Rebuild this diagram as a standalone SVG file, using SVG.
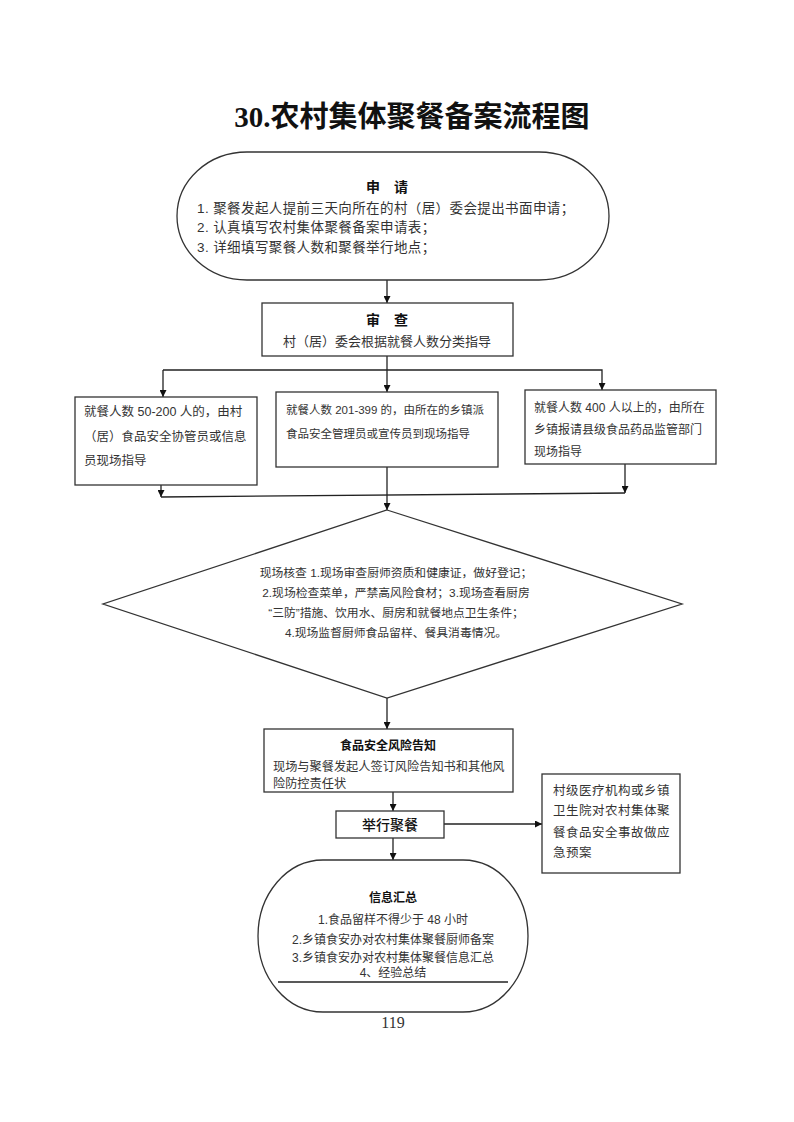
<svg xmlns="http://www.w3.org/2000/svg" width="794" height="1122" viewBox="0 0 794 1122">
<style>
text{font-family:"Liberation Sans","Noto Sans CJK SC",sans-serif;fill:#333}
.t{font-size:13.5px;letter-spacing:0.4px}
.s{font-size:11.5px}
.b{font-weight:bold;fill:#111}
.c{text-anchor:middle}
.d{font-size:11.8px}
.e{font-size:12.5px;letter-spacing:0.5px}
.shape{fill:#fff;stroke:#333;stroke-width:1.3}
.ln{fill:none;stroke:#222;stroke-width:1.3}
</style>
<defs>
<marker id="ah" viewBox="0 0 10 10" refX="10" refY="5" markerWidth="7" markerHeight="7" orient="auto" markerUnits="userSpaceOnUse"><path d="M0,0 L10,5 L0,10 z" fill="#111"/></marker>
</defs>
<rect width="794" height="1122" fill="#fff"/>
<text x="412" y="127" class="c b" style="font-family:'Liberation Serif','Noto Sans CJK SC',serif;font-size:29px">30.农村集体聚餐备案流程图</text>

<g id="connectors">
<line class="ln" x1="387" y1="280" x2="387" y2="303" marker-end="url(#ah)"/>
<line class="ln" x1="387" y1="356" x2="387" y2="392" marker-end="url(#ah)"/>
<polyline class="ln" points="163,370 602,370 602,390" marker-end="url(#ah)"/>
<line class="ln" x1="163" y1="370" x2="163" y2="397" marker-end="url(#ah)"/>
<line class="ln" x1="161" y1="485" x2="161" y2="497" marker-end="url(#ah)"/>
<line class="ln" x1="625" y1="464" x2="625" y2="493" marker-end="url(#ah)"/>
<line class="ln" x1="161" y1="497" x2="625" y2="493"/>
<line class="ln" x1="387" y1="467" x2="387" y2="510" marker-end="url(#ah)"/>
<line class="ln" x1="387" y1="698" x2="387" y2="729" marker-end="url(#ah)"/>
<line class="ln" x1="393" y1="792" x2="393" y2="811" marker-end="url(#ah)"/>
<line class="ln" x1="444" y1="824" x2="542" y2="824" marker-end="url(#ah)"/>
<line class="ln" x1="393" y1="838" x2="393" y2="860" marker-end="url(#ah)"/>
</g>

<g id="apply">
<rect class="shape" x="177" y="152" width="432" height="128" rx="70" ry="64"/>
<text x="387" y="192" class="c b" style="font-size:14px">申　请</text>
<text x="197" y="213" class="t">1. 聚餐发起人提前三天向所在的村（居）委会提出书面申请；</text>
<text x="197" y="232" class="t">2. 认真填写农村集体聚餐备案申请表；</text>
<text x="197" y="252" class="t">3. 详细填写聚餐人数和聚餐举行地点；</text>
</g>

<g id="review">
<rect class="shape" x="262" y="303" width="251" height="53"/>
<text x="387" y="325" class="c b" style="font-size:14px">审　查</text>
<text x="387" y="346" class="c" style="font-size:13px">村（居）委会根据就餐人数分类指导</text>
</g>

<g id="small">
<rect class="shape" x="75" y="397" width="182" height="88"/>
<text x="84" y="416" style="font-size:12.5px">就餐人数 50-200 人的，由村</text>
<text x="84" y="441" style="font-size:12.5px">（居）食品安全协管员或信息</text>
<text x="84" y="465" style="font-size:12.5px">员现场指导</text>
</g>

<g id="medium">
<rect class="shape" x="276" y="392" width="222" height="75"/>
<text x="286" y="414" class="s">就餐人数 201-399 的，由所在的乡镇派</text>
<text x="286" y="438" class="s">食品安全管理员或宣传员到现场指导</text>
</g>

<g id="large">
<rect class="shape" x="525" y="390" width="191" height="74"/>
<text x="534" y="412" style="font-size:12px">就餐人数 400 人以上的，由所在</text>
<text x="534" y="434" style="font-size:12px">乡镇报请县级食品药品监管部门</text>
<text x="534" y="456" style="font-size:12px">现场指导</text>
</g>

<g id="inspect">
<polygon class="shape" points="387,510 682,604 387,698 103,604"/>
<text x="396" y="577" class="c d">现场核查 1.现场审查厨师资质和健康证，做好登记；</text>
<text x="396" y="597" class="c d">2.现场检查菜单，严禁高风险食材；3.现场查看厨房</text>
<text x="396" y="617" class="c d">“三防”措施、饮用水、厨房和就餐地点卫生条件；</text>
<text x="396" y="637" class="c d">4.现场监督厨师食品留样、餐具消毒情况。</text>
</g>

<g id="risk">
<rect class="shape" x="264" y="729" width="249" height="63"/>
<text x="388" y="750" class="c b" style="font-size:12px">食品安全风险告知</text>
<text x="273" y="771" style="font-size:12.2px">现场与聚餐发起人签订风险告知书和其他风</text>
<text x="273" y="788" style="font-size:12.2px">险防控责任状</text>
</g>

<g id="hold">
<rect class="shape" x="336" y="811" width="108" height="27"/>
<text x="390" y="830" class="c b" style="font-size:14px;font-weight:500">举行聚餐</text>
</g>

<g id="emergency">
<rect class="shape" x="542" y="774" width="138" height="99"/>
<text x="553" y="795" class="e">村级医疗机构或乡镇</text>
<text x="553" y="815" class="e">卫生院对农村集体聚</text>
<text x="553" y="837" class="e">餐食品安全事故做应</text>
<text x="553" y="857" class="e">急预案</text>
</g>

<g id="summary">
<rect class="shape" x="258" y="860" width="270" height="152" rx="65" ry="76"/>
<text x="393" y="902" class="c b" style="font-size:12px">信息汇总</text>
<text x="393" y="924" class="c" style="font-size:12px">1.食品留样不得少于 48 小时</text>
<text x="393" y="944" class="c" style="font-size:12px">2.乡镇食安办对农村集体聚餐厨师备案</text>
<text x="393" y="962" class="c" style="font-size:12px">3.乡镇食安办对农村集体聚餐信息汇总</text>
<text x="393" y="977" class="c" style="font-size:12px">4、经验总结</text>
<line class="ln" x1="278" y1="982" x2="508" y2="982"/>
</g>

<text x="393" y="1028" class="c" style="font-family:'Liberation Serif',serif;font-size:16px">119</text>
</svg>
